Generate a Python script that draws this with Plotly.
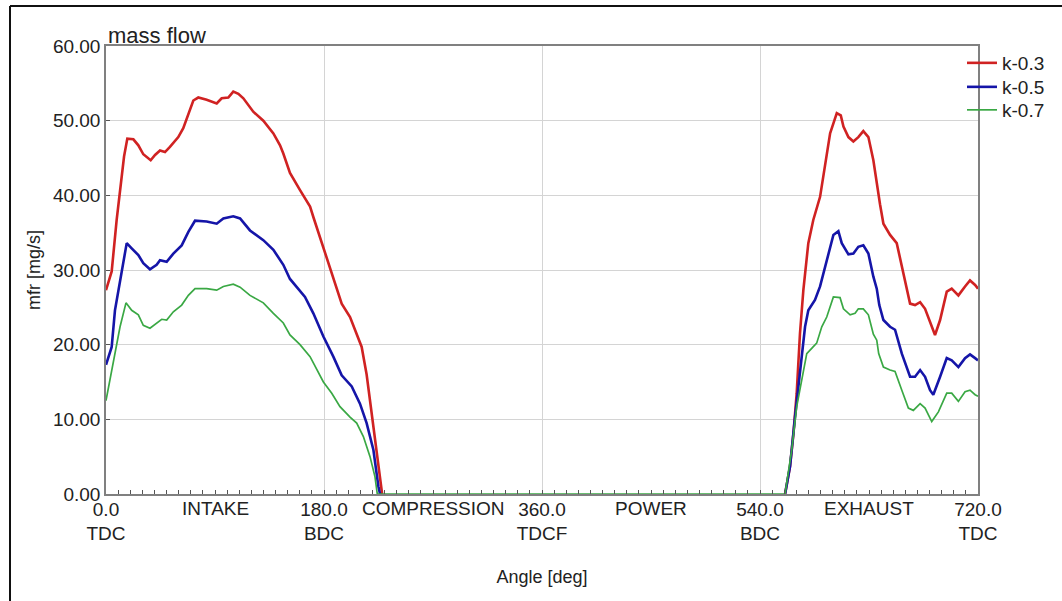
import plotly.graph_objects as go

# ---- data ----
red_angle = [0, 4.7, 8.8, 11.6, 14.9, 17.6, 22.6, 26.7, 30.8, 36.9, 40.5, 44.6, 48.7, 52.8, 59.7, 63.8,
             68, 72.1, 76.2, 83.1, 91.4, 95.5, 101, 105.1, 109.3, 113.4, 121.6, 129.9, 138.2, 143.7,
             146.4, 151.9, 160.2, 168.5, 171.2, 176.7, 180.3, 185, 190.5, 194.6, 201.5, 207, 211.1,
             215.2, 218, 222.1, 226.3, 228, None,
             560.7, 564.8, 567.6, 570.3, 573, 575.8, 579.9, 584, 589.6, 593.7, 597.9, 603.4, 606.7,
             608.9, 613, 617.1, 621.2, 625.3, 629.5, 633.6, 636.4, 639.1, 641.9, 647.4, 652.9, 658.4,
             663.9, 668, 672.2, 676.3, 680.4, 684.5, 688.7, 694.2, 698.3, 703.8, 709.3, 713.4, 717.6, 720]
red_mfr = [27.3, 29.8, 36.7, 40.7, 45.2, 47.6, 47.5, 46.7, 45.5, 44.7, 45.4, 46.0, 45.8, 46.5, 47.8, 49.0,
           51.0, 52.7, 53.1, 52.8, 52.3, 53.0, 53.1, 53.9, 53.6, 53.0, 51.2, 50.0, 48.3, 46.7,
           45.6, 43.0, 40.7, 38.5, 37.1, 34.4, 32.7, 30.2, 27.8, 25.5, 23.7, 21.5, 19.7,
           16.0, 12.6, 7.2, 1.9, 0.0, None,
           0.0, 3.7, 8.1, 13.5, 21.5, 27.3, 33.6, 36.7, 39.8, 43.8, 48.3, 51.0, 50.7,
           49.2, 47.8, 47.2, 47.8, 48.6, 47.8, 44.7, 41.5, 38.8, 36.2, 34.7, 33.6, 29.5,
           25.5, 25.3, 25.7, 24.8, 22.9, 21.3, 23.3, 27.1, 27.5, 26.6, 27.8, 28.6, 28.0, 27.5]

blue_angle = [0, 4.7, 7.4, 11.6, 17.1, 21.2, 26.7, 30.8, 36.3, 41.8, 44.6, 50.1, 55.6, 62.5, 68, 73.5,
              83.1, 91.4, 96.9, 105.1, 110.7, 118.9, 129.9, 138.2, 146.4, 151.9, 160.2, 164.3, 171.2,
              179.5, 187.7, 194.6, 202.9, 209.7, 215.2, 220.8, 224.9, 226.3, None,
              560.7, 564.8, 568.9, 573, 577.2, 579.9, 585.4, 589.6, 592.3, 596.4, 600.6, 604.7, 607.5,
              613, 617.1, 621.2, 625.3, 629.5, 633.6, 636.4, 638.5, 641.9, 647.4, 651.5, 657.1, 663.9,
              668, 672.2, 676.3, 680.4, 683.1, 688.7, 694.2, 698.3, 703.8, 709.3, 713.4, 717.6, 720]
blue_mfr = [17.3, 19.7, 24.6, 28.6, 33.6, 32.9, 32.0, 30.9, 30.1, 30.7, 31.3, 31.1, 32.2, 33.3, 35.1, 36.6,
            36.5, 36.2, 36.9, 37.2, 36.9, 35.3, 34.0, 32.7, 30.7, 28.8, 27.1, 26.4, 24.2,
            21.1, 18.4, 15.9, 14.4, 12.1, 9.5, 5.9, 1.0, 0.0, None,
            0.0, 3.7, 10.3, 16.2, 22.4, 24.6, 26.0, 27.8, 29.5, 32.2, 34.7, 35.2, 33.6,
            32.1, 32.2, 33.1, 33.3, 32.2, 29.1, 27.5, 25.3, 23.3, 22.4, 22.0, 18.8, 15.7,
            15.7, 16.6, 15.7, 13.9, 13.3, 15.7, 18.2, 17.9, 17.0, 18.2, 18.7, 18.2, 17.9]

green_angle = [0, 3.3, 7.4, 11.6, 16.5, 21.2, 26.7, 30.8, 36.3, 41.8, 46, 50.1, 55.6, 62.5, 68, 73.5,
               83.1, 91.4, 96.9, 105.1, 110.7, 118.9, 129.9, 138.2, 146.4, 151.9, 160.2, 168.5, 174,
               179.5, 186.4, 193.2, 201.5, 207, 212.5, 218, 222.1, 224,
               560.7, 566.2, 570.3, 574.4, 578.6, 582.7, 586.8, 591, 595.1, 600.6, 606.1, 608.9, 614.4,
               618.5, 621.2, 625.3, 629.5, 633.6, 636.4, 638, 641.9, 647.4, 651.5, 657.1, 662.5, 666.6,
               672.2, 676.3, 681.8, 687.3, 694.2, 698.3, 703.8, 709.3, 713.4, 717.6, 720]
green_mfr = [12.5, 15.3, 18.8, 22.4, 25.6, 24.6, 24.0, 22.6, 22.2, 22.9, 23.4, 23.3, 24.4, 25.3, 26.6, 27.5,
             27.5, 27.3, 27.8, 28.1, 27.7, 26.6, 25.6, 24.2, 22.9, 21.3, 20.0, 18.4, 16.6,
             15.0, 13.5, 11.7, 10.3, 9.5, 7.7, 5.0, 2.3, 0.0,
             0.0, 5.9, 11.7, 15.3, 18.8, 19.5, 20.2, 22.4, 23.7, 26.4, 26.3, 24.8, 24.0,
             24.2, 24.8, 24.8, 24.0, 21.4, 20.6, 18.8, 17.0, 16.6, 16.4, 13.9, 11.5, 11.2,
             12.1, 11.5, 9.7, 11.0, 13.5, 13.5, 12.4, 13.7, 13.9, 13.3, 13.1]

series_names = ["k-0.3", "k-0.5", "k-0.7"]
series_colors = ["#d02222", "#1515a8", "#3aa844"]
series_widths = [2.6, 2.6, 1.7]

angle_tickvals = [0, 180, 360, 540, 720]
angle_ticktext = ["0.0<br>TDC", "180.0<br>BDC", "360.0<br>TDCF", "540.0<br>BDC", "720.0<br>TDC"]
phase_pos = [90, 270, 450, 630]
phase_names = ["INTAKE", "COMPRESSION", "POWER", "EXHAUST"]

FONT = "Liberation Sans, Arial, sans-serif"
TXT = "#222222"

L, R, T, B = 106, 978, 46, 494
def px(xp):
    return (xp - L) / (R - L)
def py(yp):
    return (B - yp) / (B - T)

legend_ids = ["legend", "legend2", "legend3"]
legend_tops = [44, 68, 91]

fig = go.Figure()
for ang, val, name, col, w, lg in zip([red_angle, blue_angle, green_angle],
                                      [red_mfr, blue_mfr, green_mfr],
                                      series_names, series_colors, series_widths, legend_ids):
    fig.add_trace(go.Scatter(x=ang, y=val, mode="lines", name=name, legend=lg,
                             connectgaps=False, line=dict(color=col, width=w)))

for p, nm in zip(phase_pos, phase_names):
    fig.add_annotation(x=p, xref="x", y=0, yref="paper", yanchor="top", yshift=-2,
                       text=nm, showarrow=False, font=dict(family=FONT, size=19, color=TXT))

fig.add_annotation(x=0, xref="paper", y=1, yref="paper", xanchor="left", yanchor="bottom",
                   yshift=-4, text="mass flow", showarrow=False,
                   font=dict(family=FONT, size=22, color=TXT))

# outer frame (only left/top edges fall inside the picture)
fig.add_shape(type="line", xref="paper", yref="paper", x0=px(10), x1=px(1080), y0=py(6), y1=py(6),
              line=dict(color="#111111", width=2))
fig.add_shape(type="line", xref="paper", yref="paper", x0=px(10), x1=px(10), y0=py(6), y1=py(620),
              line=dict(color="#111111", width=2))

legend_common = dict(xanchor="left", yanchor="top",
                     font=dict(family=FONT, size=19, color=TXT),
                     bgcolor="rgba(0,0,0,0)", borderwidth=0, itemwidth=30)
legends = {}
for lg, top in zip(legend_ids, legend_tops):
    legends[lg] = dict(x=px(962), y=py(top), **legend_common)

fig.update_layout(
    width=1062, height=601,
    margin=dict(l=L, r=1062 - R, t=T, b=601 - B, autoexpand=False),
    paper_bgcolor="white", plot_bgcolor="white",
    font=dict(family=FONT, size=19, color=TXT),
    showlegend=True,
    **legends,
    xaxis=dict(range=[0, 720], tickmode="array", tickvals=angle_tickvals, ticktext=angle_ticktext,
               showgrid=True, gridcolor="#d4d4d4", gridwidth=1, zeroline=False,
               showline=True, linecolor="#808080", linewidth=1.5, mirror=True,
               ticks="inside", ticklen=4, tickcolor="#555555", ticklabelstandoff=-3,
               minor=dict(tickmode="linear", tick0=0, dtick=10, ticks="inside", ticklen=4,
                          tickcolor="#555555", showgrid=False),
               tickfont=dict(family=FONT, size=19, color=TXT),
               title=dict(text="Angle [deg]", font=dict(family=FONT, size=18, color=TXT), standoff=27)),
    yaxis=dict(range=[0, 60], tickmode="linear", tick0=0, dtick=10, tickformat=".2f",
               showgrid=True, gridcolor="#d4d4d4", gridwidth=1, zeroline=False,
               showline=True, linecolor="#808080", linewidth=1.5, mirror=True,
               ticks="inside", ticklen=4, tickcolor="#555555",
               tickfont=dict(family=FONT, size=19, color=TXT),
               title=dict(text="mfr [mg/s]", font=dict(family=FONT, size=18, color=TXT), standoff=8)),
)

fig.write_html("out.html")
